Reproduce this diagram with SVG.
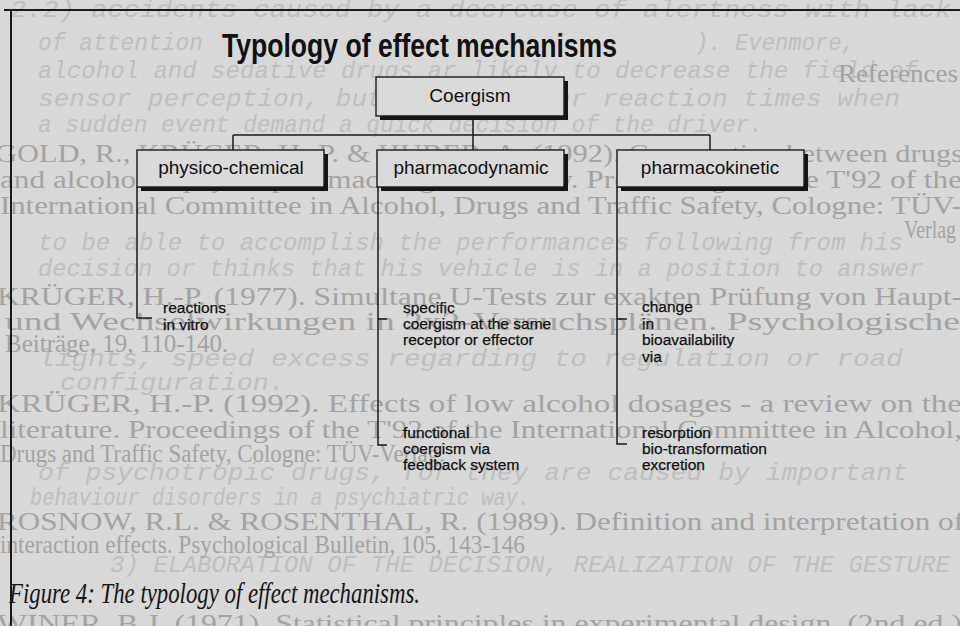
<svg xmlns="http://www.w3.org/2000/svg" width="960" height="626" viewBox="0 0 960 626">
<style>
.bg{fill:#d8d8d8}
.mono{font-family:"Liberation Mono","DejaVu Sans Mono",monospace;font-style:italic;font-size:23.5px;fill:#bfbfbf}
.serif{font-family:"Liberation Serif","DejaVu Serif",serif;font-size:25px;fill:#a4a4a4}
.frame{stroke:#1a1a1a;stroke-width:2;fill:none}
.title{font-family:"Liberation Sans",Arial,sans-serif;font-weight:bold;font-size:34px;fill:#111}
.box{fill:#dadada;stroke:#1a1a1a;stroke-width:1.4}
.shadow{fill:#151515}
.head{font-family:"Liberation Sans",Arial,sans-serif;font-size:19px;fill:#111;text-anchor:middle}
.leaf{font-family:"Liberation Sans",Arial,sans-serif;font-size:15.5px;fill:#111;stroke:#111;stroke-width:0.25}
.line{stroke:#1a1a1a;stroke-width:1.5;fill:none}
.caption{font-family:"Liberation Serif","DejaVu Serif",serif;font-style:italic;font-size:30px;fill:#151515}
</style>
<rect class="bg" x="0" y="0" width="960" height="626"/>
<g id="bleed-through">
<text class="mono" x="10" y="17" textLength="990" lengthAdjust="spacingAndGlyphs">2.2) accidents caused by a decrease of alertness with lack of</text>
<text class="mono" x="38" y="50" textLength="165" lengthAdjust="spacingAndGlyphs">of attention</text>
<text class="mono" x="695" y="50" textLength="160" lengthAdjust="spacingAndGlyphs">). Evenmore,</text>
<text class="mono" x="38" y="78" textLength="880" lengthAdjust="spacingAndGlyphs">alcohol and sedative drugs ar likely to decrease the field of</text>
<text class="mono" x="38" y="106" textLength="862" lengthAdjust="spacingAndGlyphs">sensor perception, but, also longer reaction times when</text>
<text class="mono" x="38" y="132" textLength="725" lengthAdjust="spacingAndGlyphs">a sudden event demand a quick decision of the driver.</text>
<text class="mono" x="38" y="250" textLength="865" lengthAdjust="spacingAndGlyphs">to be able to accomplish the performances following from his</text>
<text class="mono" x="38" y="276" textLength="885" lengthAdjust="spacingAndGlyphs">decision or thinks that his vehicle is in a position to answer</text>
<text class="mono" x="38" y="366" textLength="865" lengthAdjust="spacingAndGlyphs">lights, speed excess regarding to regulation or road</text>
<text class="mono" x="60" y="390" textLength="225" lengthAdjust="spacingAndGlyphs">configuration.</text>
<text class="mono" x="38" y="480" textLength="870" lengthAdjust="spacingAndGlyphs">of psychotropic drugs, for they are caused by important</text>
<text class="mono" x="30" y="505" textLength="500" lengthAdjust="spacingAndGlyphs">behaviour disorders in a psychiatric way.</text>
<text class="mono" x="110" y="572" textLength="840" lengthAdjust="spacingAndGlyphs">3) ELABORATION OF THE DECISION, REALIZATION OF THE GESTURE</text>
<text class="serif" x="838" y="82" textLength="120" lengthAdjust="spacingAndGlyphs">References</text>
<text class="serif" x="-5" y="162" textLength="968" lengthAdjust="spacingAndGlyphs">GOLD, R., KRÜGER, H.-P. &amp; HUBER, A. (1992). Cooperation between drugs</text>
<text class="serif" x="0" y="188" textLength="962" lengthAdjust="spacingAndGlyphs">and alcohol: a psychopharmacological review. Proceedings of the T'92 of the</text>
<text class="serif" x="0" y="214" textLength="962" lengthAdjust="spacingAndGlyphs">International Committee in Alcohol, Drugs and Traffic Safety, Cologne: TÜV-</text>
<text class="serif" x="904" y="238" textLength="52" lengthAdjust="spacingAndGlyphs">Verlag</text>
<text class="serif" x="-3" y="305" textLength="965" lengthAdjust="spacingAndGlyphs">KRÜGER, H.-P. (1977). Simultane U-Tests zur exakten Prüfung von Haupt-</text>
<text class="serif" x="5" y="330" textLength="955" lengthAdjust="spacingAndGlyphs">und Wechselwirkungen in 2x2-Versuchsplänen. Psychologische</text>
<text class="serif" x="5" y="352">Beiträge, 19, 110-140.</text>
<text class="serif" x="-3" y="412" textLength="965" lengthAdjust="spacingAndGlyphs">KRÜGER, H.-P. (1992). Effects of low alcohol dosages - a review on the</text>
<text class="serif" x="0" y="438" textLength="962" lengthAdjust="spacingAndGlyphs">literature. Proceedings of the T'92 of the International Committee in Alcohol,</text>
<text class="serif" x="0" y="462" textLength="445" lengthAdjust="spacingAndGlyphs">Drugs and Traffic Safety, Cologne: TÜV-Verlag.</text>
<text class="serif" x="-3" y="530" textLength="967" lengthAdjust="spacingAndGlyphs">ROSNOW, R.L. &amp; ROSENTHAL, R. (1989). Definition and interpretation of</text>
<text class="serif" x="0" y="553" textLength="525" lengthAdjust="spacingAndGlyphs">interaction effects. Psychological Bulletin, 105, 143-146</text>
<text class="serif" x="-3" y="632" textLength="965" lengthAdjust="spacingAndGlyphs">WINER, B.J. (1971). Statistical principles in experimental design. (2nd ed.)</text>
</g>
<g id="frame">
<path class="frame" d="M4 10 H960 M11 9 V626"/>
</g>
<g id="title">
<text class="title" x="222" y="57" textLength="395" lengthAdjust="spacingAndGlyphs">Typology of effect mechanisms</text>
</g>
<g id="connectors">
<path class="line" d="M473 116 V150 M233 135 H710 M233 135 V150 M710 135 V150"/>
<path class="line" d="M137 187 V318 H152"/>
<path class="line" d="M378 187 V445 H387 M378 319 H387"/>
<path class="line" d="M617 187 V444 H627 M617 319 H627"/>
</g>
<g id="coergism">
<rect class="shadow" x="380" y="81" width="188" height="39"/>
<rect class="box" x="376" y="77" width="188" height="39"/>
<text class="head" x="470" y="102">Coergism</text>
</g>
<g id="physico-chemical">
<rect class="shadow" x="141" y="154" width="187" height="37"/>
<rect class="box" x="137" y="150" width="187" height="37"/>
<text class="head" x="231" y="174">physico-chemical</text>
</g>
<g id="pharmacodynamic">
<rect class="shadow" x="381" y="154" width="187" height="37"/>
<rect class="box" x="377" y="150" width="187" height="37"/>
<text class="head" x="471" y="174">pharmacodynamic</text>
</g>
<g id="pharmacokinetic">
<rect class="shadow" x="621" y="154" width="187" height="37"/>
<rect class="box" x="617" y="150" width="187" height="37"/>
<text class="head" x="710" y="174">pharmacokinetic</text>
</g>
<g id="reactions-in-vitro">
<text class="leaf" x="163" y="313">reactions</text>
<text class="leaf" x="163" y="330">in vitro</text>
</g>
<g id="specific-coergism">
<text class="leaf" x="403" y="313">specific</text>
<text class="leaf" x="403" y="329">coergism at the same</text>
<text class="leaf" x="403" y="345">receptor or effector</text>
</g>
<g id="functional-coergism">
<text class="leaf" x="403" y="438">functional</text>
<text class="leaf" x="403" y="454">coergism via</text>
<text class="leaf" x="403" y="470">feedback system</text>
</g>
<g id="change-in-bioavailability">
<text class="leaf" x="642" y="312">change</text>
<text class="leaf" x="642" y="328.5">in</text>
<text class="leaf" x="642" y="345">bioavailability</text>
<text class="leaf" x="642" y="361.5">via</text>
</g>
<g id="resorption">
<text class="leaf" x="642" y="438">resorption</text>
<text class="leaf" x="642" y="454">bio-transformation</text>
<text class="leaf" x="642" y="470">excretion</text>
</g>
<g id="caption">
<text class="caption" x="9" y="603" textLength="411" lengthAdjust="spacingAndGlyphs">Figure 4: The typology of effect mechanisms.</text>
</g>
</svg>
